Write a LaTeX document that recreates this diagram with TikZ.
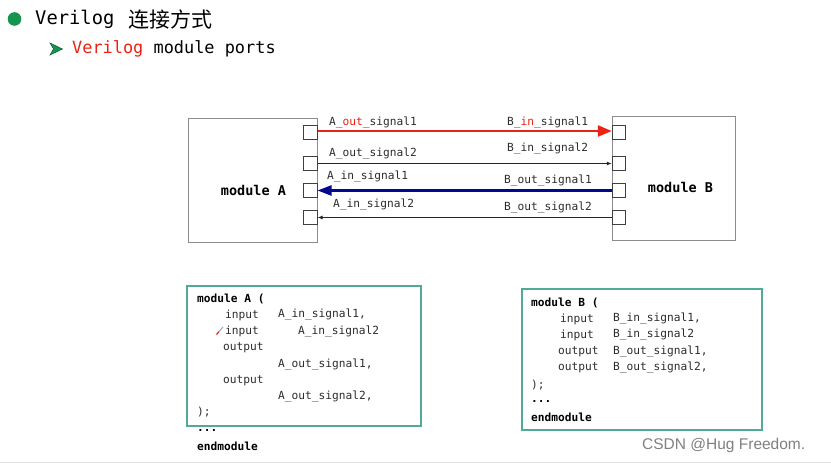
\documentclass[tikz,border=0pt]{standalone}
\usepackage{fontspec}
\setmonofont{DejaVu Sans Mono}
\newfontfamily\cjk{Noto Sans CJK SC}
\newfontfamily\wmfont{Liberation Sans}
\usetikzlibrary{arrows.meta}
\definecolor{bulgreen}{RGB}{20,150,80}
\definecolor{sigred}{RGB}{235,35,20}
\definecolor{navy}{RGB}{0,10,140}
\definecolor{teal2}{RGB}{80,170,150}
\definecolor{boxgray}{RGB}{140,140,140}
\definecolor{txtgray}{RGB}{45,45,45}
\tikzset{
  lbl/.style={anchor=west,inner sep=0pt,font=\ttfamily\fontsize{11.2}{13}\selectfont,text=txtgray},
  codetxt/.style={anchor=west,inner sep=0pt,font=\ttfamily\fontsize{11.2}{13}\selectfont,text=txtgray},
  codebold/.style={anchor=west,inner sep=0pt,font=\ttfamily\bfseries\fontsize{11.2}{13}\selectfont,text=black},
  port/.style={draw=black!75,line width=0.9pt,minimum size=13.5pt,inner sep=0pt},
  modbox/.style={draw=boxgray,line width=0.9pt,inner sep=0pt},
  codebox/.style={draw=teal2,line width=1.4pt,inner sep=0pt},
  modname/.style={inner sep=0pt,font=\ttfamily\bfseries\fontsize{13.5}{15}\selectfont},
  bigred/.style={draw=sigred,line width=2.4pt,-{Triangle[length=14pt,width=11pt]}},
  bigblue/.style={draw=navy,line width=2.4pt,-{Triangle[length=14pt,width=10pt]}},
  thinarr/.style={draw=black!85,line width=1pt,-{Latex[length=5pt,width=4pt]}}
}
\begin{document}
\begin{tikzpicture}[x=1pt,y=-1pt]
\useasboundingbox (0,0) rectangle (831,465);
\fill[white] (0,0) rectangle (831,465);
\draw[black!12,line width=1pt] (0,462.5) -- (831,462.5);

% title
\fill[bulgreen] (14.5,19) circle (6.8);
\node[anchor=west,inner sep=0pt,font=\ttfamily\fontsize{18.8}{22}\selectfont] (t1) at (35,19) {Verilog};
\node[anchor=west,inner sep=0pt,font=\cjk\fontsize{21}{24}\selectfont] (t2) at (128,19) {连接方式};
\filldraw[fill=bulgreen,draw=bulgreen!60!black,line width=0.5pt] (50,43) -- (62.5,49) -- (50,55) -- (53.5,49) -- cycle;
\node[anchor=west,inner sep=0pt,font=\ttfamily\fontsize{16.9}{20}\selectfont] (t3) at (72,49) {\textcolor{sigred}{Verilog} module ports};

% module boxes
\node[modbox,minimum width=129pt,minimum height=124pt] (A) at (252.5,180) {};
\node[modbox,minimum width=123pt,minimum height=124pt] (B) at (673.5,178) {};
\node[modname] (An) at (253.5,190) {module A};
\node[modname] (Bn) at (680.5,187) {module B};

% ports
\node[port] (a1) at (310.3,132.5) {};
\node[port] (a2) at (310.3,163.5) {};
\node[port] (a3) at (310.3,190.5) {};
\node[port] (a4) at (310.3,217.5) {};
\node[port] (b1) at (619,132.5) {};
\node[port] (b2) at (619,163.5) {};
\node[port] (b3) at (619,190.5) {};
\node[port] (b4) at (619,217.5) {};

% connectors
\draw[bigred] (a1.east) ++(0,-1.5) coordinate (r0) -- (r0 -| b1.west);
\draw[thinarr] (a2.east) -- (b2.west);
\draw[bigblue] (b3.west) -- (a3.east);
\draw[thinarr] (b4.west) -- (a4.east);

% labels
\node[lbl] (l1) at (329,123) {A\_\textcolor{sigred}{out}\_signal1};
\node[lbl] (l2) at (507,123) {B\_\textcolor{sigred}{in}\_signal1};
\node[lbl] (l3) at (329,154) {A\_out\_signal2};
\node[lbl] (l4) at (507,148.5) {B\_in\_signal2};
\node[lbl] (l5) at (327,177) {A\_in\_signal1};
\node[lbl] (l6) at (504,180.5) {B\_out\_signal1};
\node[lbl] (l7) at (333,205) {A\_in\_signal2};
\node[lbl] (l8) at (504,207.5) {B\_out\_signal2};

% code box A
\node[codebox,minimum width=234pt,minimum height=140pt] (CA) at (304,356) {};
\node[codebold] (ca1) at (197,299) {module A (};
\node[codetxt] (ca2) at (225,315) {input};
\node[codetxt] (ca3) at (278,315) {A\_in\_signal1,};
\node[codetxt] (ca4) at (225,331.5) {input};
\node[codetxt] (ca5) at (298,331.5) {A\_in\_signal2};
\node[codetxt] (ca6) at (223,348) {output};
\node[codetxt] (ca7) at (278,364.5) {A\_out\_signal1,};
\node[codetxt] (ca8) at (223,381) {output};
\node[codetxt] (ca9) at (278,397) {A\_out\_signal2,};
\node[codetxt] (ca10) at (197,412) {);};
\node[codebold] (ca11) at (197,430) {...};
\node[codebold] (ca12) at (197,446) {endmodule};
\draw[red!80!black,line width=1pt] (216.5,334.5) -- (219,331.5);
\draw[black!35,line width=1pt] (219,331.5) -- (223,327);

% code box B
\node[codebox,minimum width=240pt,minimum height=141pt] (CB) at (642,359.5) {};
\node[codebold] (cb1) at (531,303) {module B (};
\node[codetxt] (cb2) at (560,319) {input};
\node[codetxt] (cb3) at (613,319) {B\_in\_signal1,};
\node[codetxt] (cb4) at (560,335) {input};
\node[codetxt] (cb5) at (613,335) {B\_in\_signal2};
\node[codetxt] (cb6) at (558,352) {output};
\node[codetxt] (cb7) at (613,352) {B\_out\_signal1,};
\node[codetxt] (cb8) at (558,368) {output};
\node[codetxt] (cb9) at (613,368) {B\_out\_signal2,};
\node[codetxt] (cb10) at (531,385) {);};
\node[codebold] (cb11) at (531,401) {...};
\node[codebold] (cb12) at (531,417) {endmodule};

% watermark
\node[anchor=west,inner sep=0pt,font=\wmfont\fontsize{15.5}{18}\selectfont,text=black!50] (wm) at (642,445) {CSDN @Hug Freedom.};
\end{tikzpicture}
\end{document}
